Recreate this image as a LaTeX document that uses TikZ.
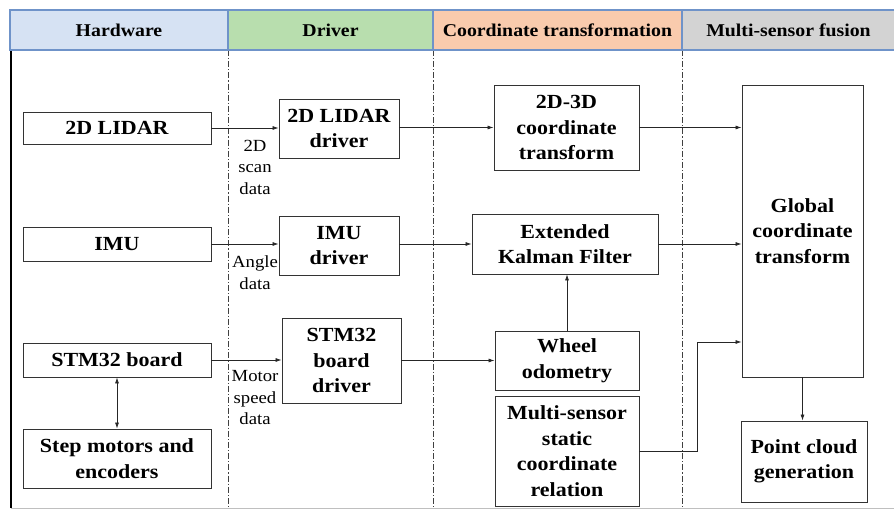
\documentclass[tikz,border=0pt]{standalone}
\usepackage{fontspec}
\setmainfont{Liberation Serif}[FakeStretch=1.1]
\usetikzlibrary{arrows.meta}
\definecolor{hwblue}{HTML}{D6E2F3}
\definecolor{drvgreen}{HTML}{B8DEAE}
\definecolor{coorange}{HTML}{F9CBAD}
\definecolor{fugray}{HTML}{D3D3D3}
\definecolor{hdrline}{HTML}{6F93C9}
\tikzset{
  blk/.style={draw=black!80, line width=0.9pt, fill=white, inner sep=0pt, align=center,
    font=\fontsize{20}{25.5}\selectfont\bfseries},
  hdr/.style={draw=hdrline, line width=1.2pt, inner sep=0pt,
    font=\fontsize{18}{20}\selectfont\bfseries},
  lbl/.style={align=center, inner sep=0pt, font=\fontsize{17}{21.5}\selectfont},
  con/.style={draw=black!85, line width=0.7pt, -{Latex[length=6pt,width=4pt]}},
  sep/.style={draw=black!75, line width=0.8pt, dash pattern=on 6pt off 2pt on 1.2pt off 2pt}
}
\begin{document}
\begin{tikzpicture}[x=1pt,y=-1pt]
\useasboundingbox (0,0) rectangle (894,510);
% frame
\draw[black, line width=1.2pt] (11,50) -- (11,508);
\draw[black!25, line width=1pt] (11,508) -- (894,508);
% separators
\foreach \xx in {228,433,682} \draw[sep] (\xx,50) -- (\xx,508);
% header
\node[hdr, fill=hwblue, minimum width=218pt, minimum height=40pt] (h1) at (119,30) {Hardware};
\node[hdr, fill=drvgreen, minimum width=205pt, minimum height=40pt] (h2) at (330.5,30) {Driver};
\node[hdr, fill=coorange, minimum width=249pt, minimum height=40pt] (h3) at (557.5,30) {Coordinate transformation};
\node[hdr, fill=fugray, minimum width=213pt, minimum height=40pt] (h4) at (788.5,30) {Multi-sensor fusion};
% hardware
\node[blk, minimum width=188pt, minimum height=32pt] (lidar) at (117,128) {2D LIDAR};
\node[blk, minimum width=188pt, minimum height=34pt] (imu) at (117,244) {IMU};
\node[blk, minimum width=188pt, minimum height=34pt] (stm) at (117,360) {STM32 board};
\node[blk, minimum width=188pt, minimum height=59pt] (motor) at (117,458.5) {Step motors and\\encoders};
% drivers
\node[blk, minimum width=120pt, minimum height=59pt] (ldrv) at (339,128.5) {2D LIDAR\\driver};
\node[blk, minimum width=120pt, minimum height=59pt] (idrv) at (339,245.5) {IMU\\driver};
\node[blk, minimum width=119pt, minimum height=85pt] (sdrv) at (341.5,360.5) {STM32\\board\\driver};
% coordinate transformation
\node[blk, minimum width=145pt, minimum height=85pt] (t23) at (566.5,127.5) {2D-3D\\coordinate\\transform};
\node[blk, minimum width=186pt, minimum height=60pt] (ekf) at (565,244) {Extended\\Kalman Filter};
\node[blk, minimum width=144pt, minimum height=59pt] (wheel) at (567,360.5) {Wheel\\odometry};
\node[blk, minimum width=144pt, minimum height=110pt] (multi) at (567,451) {Multi-sensor\\static\\coordinate\\relation};
% fusion
\node[blk, minimum width=121pt, minimum height=292pt] (glob) at (802.5,231) {Global\\coordinate\\transform};
\node[blk, minimum width=126pt, minimum height=81pt] (pcg) at (804,461.5) {Point cloud\\generation};
% labels
\node[lbl] (l1) at (255,167) {2D\\scan\\data};
\node[lbl] (l2) at (255,272.5) {Angle\\data};
\node[lbl] (l3) at (255,398) {Motor\\speed\\data};
% connectors
\draw[con] (lidar.east) -- (ldrv.west |- lidar.east);
\draw[con] (ldrv.east |- t23.west) -- (t23.west);
\draw[con] (t23.east) -- (glob.west |- t23.east);
\draw[con] (imu.east) -- (idrv.west |- imu.east);
\draw[con] (idrv.east |- ekf.west) -- (ekf.west);
\draw[con] (ekf.east) -- (glob.west |- ekf.east);
\draw[con] (stm.east) -- (sdrv.west |- stm.east);
\draw[con] (sdrv.east) -- (wheel.west |- sdrv.east);
\draw[con] (wheel.north) -- (wheel.north |- ekf.south);
\draw[con, {Latex[length=6pt,width=4pt]}-{Latex[length=6pt,width=4pt]}] (stm.south) -- (motor.north);
\coordinate (bend) at (697,451);
\draw[con] (multi.east) -- (bend) -- (697,342) -- (glob.west |- 0,342);
\draw[con] (glob.south) -- (glob.south |- pcg.north);
\end{tikzpicture}
\end{document}
